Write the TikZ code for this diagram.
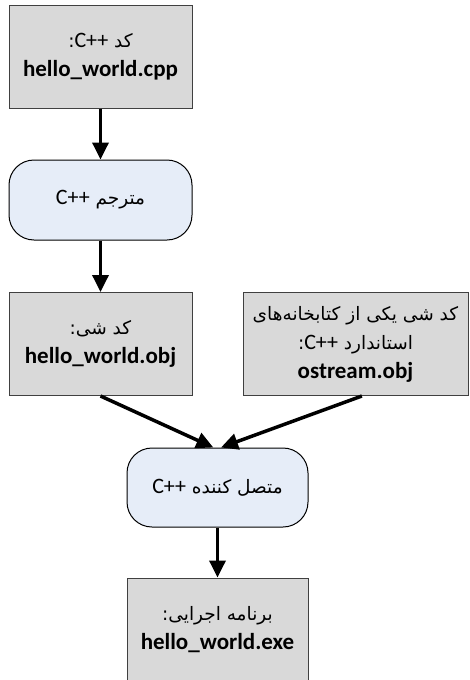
\documentclass[tikz,border=0pt]{standalone}
\usepackage{fontspec}
\setmainfont{Carlito}
\newfontfamily\fafont[Script=Arabic]{DejaVu Sans}
\TeXXeTstate=1
\usetikzlibrary{arrows.meta}
\definecolor{boxgray}{HTML}{D9D9D9}
\definecolor{boxline}{HTML}{404040}
\definecolor{procblue}{HTML}{E6EDF8}
\newcommand{\fa}{\fafont\fontsize{18.5}{29}\selectfont}
\newcommand{\lt}{\rmfamily\fontsize{22}{29}\selectfont}
\tikzset{
every picture/.style={
line width=1pt
}}

\begin{document}
\begin{tikzpicture}[x=1pt, y=-1pt,
codebox/.style = {rectangle, draw=boxline, fill=boxgray, align=center,
  minimum width=183pt, minimum height=103pt, inner sep=0pt,
  font=\fontsize{23}{29}\selectfont},
procbox/.style = {rectangle, rounded corners=25pt, draw=black, fill=procblue,
  align=center, minimum width=183pt, minimum height=80pt, inner sep=0pt},
flow/.style = {line width=3.5pt, -{Triangle[length=17pt,width=16pt]}}]
\useasboundingbox (0,0) rectangle (470,680);

\node[codebox] at (100.5,56.5) (src) {{\fa\beginR کد \beginL{\lt C++}\endL:\endR}\\
  \textbf{hello\_world.cpp}};
\node[procbox] at (100.5,200) (comp) {{\fa\beginR مترجم \beginL{\lt C++}\endL\endR}};
\node[codebox] at (100.5,344) (obj) {{\fa\beginR کد شی:\endR}\\
  \textbf{hello\_world.obj}};
\node[codebox, minimum width=225pt] at (355.5,344) (lib)
  {{\fa\beginR کد شی یکی از کتابخانه‌های\endR}\\
  {\fa\beginR استاندارد \beginL{\lt C++}\endL:\endR}\\
  \textbf{ostream.obj}};
\node[procbox, minimum width=181pt, minimum height=79pt] at (217.5,487.5) (link)
  {{\fa\beginR متصل کننده \beginL{\lt C++}\endL\endR}};
\node[codebox, minimum width=181pt, minimum height=104pt] at (217.5,630) (exe)
  {{\fa\beginR برنامه اجرایی:\endR}\\
  \textbf{hello\_world.exe}};

\draw[flow] (src) -- (comp);
\draw[flow] (comp) -- (obj);
\draw[flow] (obj.south) -- (link.96);
\draw[flow] (lib.-83) -- (link.85);
\draw[flow] (link) -- (exe);
\end{tikzpicture}
\end{document}
